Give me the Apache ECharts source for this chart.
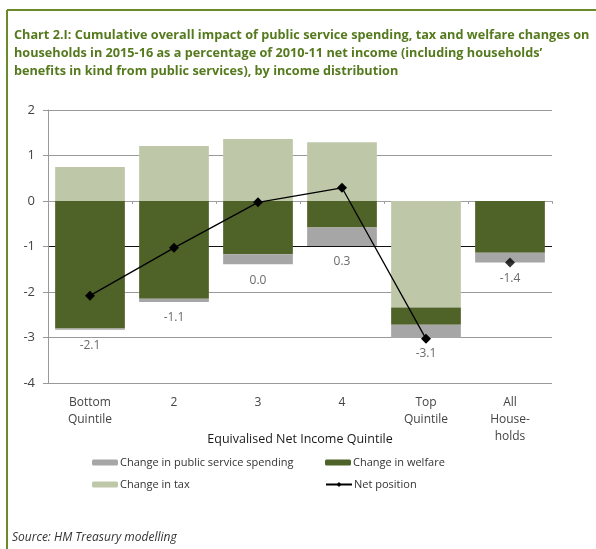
<!DOCTYPE html>
<html>
<head>
<meta charset="utf-8">
<script src="https://cdn.jsdelivr.net/npm/echarts@6/dist/echarts.min.js"></script>
<style>html,body{margin:0;padding:0;background:#fff;}#c{width:596px;height:549px;}</style>
</head>
<body>
<div id="c"></div>
<script>
var categories = ['Bottom\nQuintile', '2', '3', '4', 'Top\nQuintile', 'All\nHouse-\nholds'];
var taxChange = [0.75, 1.21, 1.36, 1.29, -2.34, 0];
var welfareChange = [-2.80, -2.15, -1.17, -0.58, -0.38, -1.14];
var publicServiceChange = [-0.03, -0.07, -0.22, -0.41, -0.29, -0.21];
var netPosition = [-2.08, -1.03, -0.03, 0.29, -3.03, -1.35];
var netLabels = ['-2.1', '-1.1', '0.0', '0.3', '-3.1', '-1.4'];
var yTicks = [-4, -3, -2, -1, 0, 1, 2];

var FONT = "'Open Sans', sans-serif";

var bottoms = categories.map(function (_, i) {
  var s = 0;
  [taxChange[i], welfareChange[i], publicServiceChange[i]].forEach(function (v) { if (v < 0) s += v; });
  return s;
});
var lineData = netPosition.map(function (v, i) { return i < 5 ? v : '-'; });
var lastPoint = netPosition.map(function (v, i) { return i === 5 ? v : '-'; });

var chart = echarts.init(document.getElementById('c'), null, {renderer: 'canvas'});
chart.setOption({
  animation: false,
  backgroundColor: '#fff',
  title: [{
    text: 'Chart 2.I: Cumulative overall impact of public service spending, tax and welfare changes on\nhouseholds in 2015-16 as a percentage of 2010-11 net income (including households\u2019\nbenefits in kind from public services), by income distribution',
    left: 9, top: 21,
    textStyle: {fontFamily: FONT, fontSize: 12.7, fontWeight: 'bold', color: '#557A1E', lineHeight: 18}
  }, {
    text: 'Source: HM Treasury modelling',
    left: 7, top: 527,
    textStyle: {fontFamily: FONT, fontSize: 12, fontStyle: 'italic', fontWeight: 'normal', color: '#333'}
  }],
  graphic: [
    {type: 'line', shape: {x1: 7, y1: 10, x2: 596, y2: 10}, style: {stroke: '#6B8A2A', lineWidth: 2}},
    {type: 'line', shape: {x1: 7, y1: 10, x2: 7, y2: 549}, style: {stroke: '#6B8A2A', lineWidth: 2}}
  ],
  legend: [
    {data: ['Change in public service spending'], left: 92, top: 457},
    {data: ['Change in welfare'], left: 325, top: 457},
    {data: ['Change in tax'], left: 92, top: 479},
    {data: ['Net position'], left: 325, top: 479}
  ].map(function (l) {
    l.itemWidth = 26; l.itemHeight = 6; l.padding = 0;
    l.textStyle = {fontFamily: FONT, fontSize: 11, color: '#333', padding: [0, 0, 0, -3]};
    return l;
  }),
  grid: {left: 48, right: 44, top: 110, bottom: 166, containLabel: false},
  xAxis: [{
    type: 'category', data: categories, position: 'bottom',
    axisLine: {show: false, onZero: false}, axisTick: {show: false},
    axisLabel: {fontFamily: FONT, fontSize: 12, color: '#444', lineHeight: 17, margin: 11, interval: 0},
    name: 'Equivalised Net Income Quintile', nameLocation: 'middle', nameGap: 50, nameMoveOverlap: false,
    nameTextStyle: {fontFamily: FONT, fontSize: 12.5, color: '#1a1a1a'}
  }, {
    type: 'category', data: categories, position: 'bottom',
    axisLine: {show: true, onZero: true, lineStyle: {color: '#a0a0a0', width: 1}},
    axisTick: {show: true, length: 3, lineStyle: {color: '#a0a0a0'}},
    axisLabel: {show: false}
  }],
  yAxis: {
    type: 'value', min: -4, max: 2, interval: 1,
    axisLine: {show: true, lineStyle: {color: '#999', width: 1}},
    axisTick: {show: true, length: 5, lineStyle: {color: '#999'}},
    axisLabel: {fontFamily: FONT, fontSize: 13, color: '#444', margin: 13},
    splitLine: {show: true, lineStyle: {color: ['#999', '#999', '#999', '#111', '#aaa', '#999', '#999'], width: 1}}
  },
  series: [{
    name: 'Change in tax', type: 'bar', stack: 's', data: taxChange, barWidth: '83%',
    itemStyle: {color: '#BEC8A9'}
  }, {
    name: 'Change in welfare', type: 'bar', stack: 's', data: welfareChange,
    itemStyle: {color: '#4F6228'}
  }, {
    name: 'Change in public service spending', type: 'bar', stack: 's', data: publicServiceChange,
    itemStyle: {color: '#A6A6A6'}
  }, {
    name: 'Net position', type: 'line', data: lineData, symbol: 'diamond', symbolSize: 10,
    itemStyle: {color: '#000'}, lineStyle: {color: '#000', width: 1.3}, z: 5
  }, {
    name: 'Net position', type: 'scatter', data: lastPoint, symbol: 'diamond', symbolSize: 10,
    itemStyle: {color: '#000'}, z: 5
  }, {
    name: 'labels', type: 'scatter', data: bottoms, symbolSize: 0, silent: true,
    label: {show: true, position: 'bottom', distance: 10, fontFamily: FONT, fontSize: 12, color: '#444',
      formatter: function (p) { return netLabels[p.dataIndex]; }}
  }]
});
</script>
</body>
</html>
